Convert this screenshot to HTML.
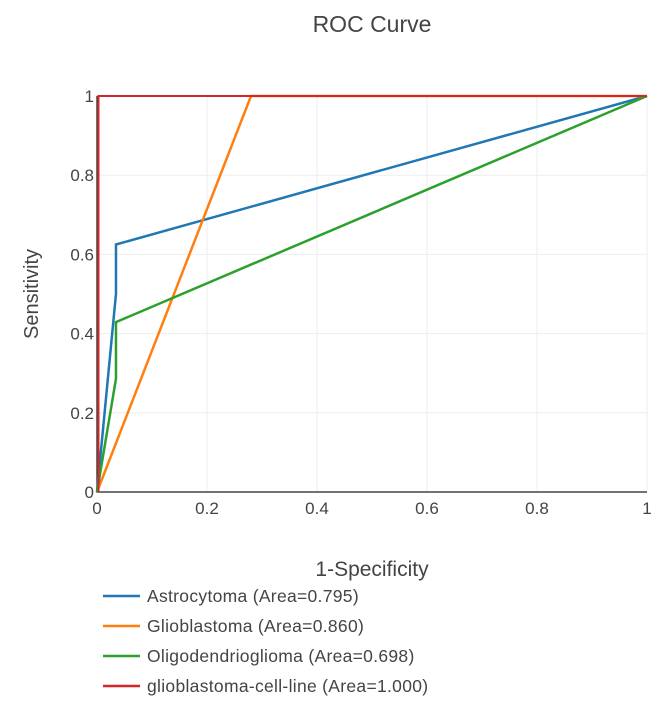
<!DOCTYPE html>
<html><head><meta charset="utf-8"><style>
body{margin:0;background:#fff;font-family:"Liberation Sans",sans-serif}
svg text{fill:#444;font-family:"Liberation Sans",sans-serif}
</style></head><body>
<svg id="chart" width="672" height="701">
<text x="372" y="32" text-anchor="middle" font-size="23">ROC Curve</text>
<g id="grid"></g><g id="ticks"></g><g id="series"></g>
<text x="372" y="576" text-anchor="middle" font-size="21">1-Specificity</text>
<text transform="translate(38,294) rotate(-90)" text-anchor="middle" font-size="20">Sensitivity</text>
<g id="legend"></g>
</svg>
<script>
const seriesNames=["Astrocytoma (Area=0.795)","Glioblastoma (Area=0.860)","Oligodendrioglioma (Area=0.698)","glioblastoma-cell-line (Area=1.000)"];
const seriesColors=["#1f77b4","#ff7f0e","#2ca02c","#d62728"];
const astroX=[0,0.0345,0.0345,1];const astroY=[0,0.5,0.625,1];
const glioX=[0,0.28,1];const glioY=[0,1,1];
const oligoX=[0,0.0345,0.0345,1];const oligoY=[0,0.286,0.429,1];
const cellX=[0,0,1];const cellY=[0,1,1];
const xTicks=[0,0.2,0.4,0.6,0.8,1];const xTickLabels=["0","0.2","0.4","0.6","0.8","1"];
const yTicks=[0,0.2,0.4,0.6,0.8,1];const yTickLabels=["0","0.2","0.4","0.6","0.8","1"];
const NS="http://www.w3.org/2000/svg";
const X0=97,X1=647,Y0=492,Y1=96;
const sx=v=>X0+v*(X1-X0), sy=v=>Y0-v*(Y0-Y1);
function mk(t,a,p){const e=document.createElementNS(NS,t);for(const k in a)e.setAttribute(k,a[k]);p.appendChild(e);return e;}
const grid=document.getElementById('grid'),ticks=document.getElementById('ticks');
xTicks.forEach((v,i)=>{
 if(v>0){const l=mk('line',{x1:sx(v),x2:sx(v),y1:Y1,y2:Y0,stroke:'#eee','stroke-width':1},grid);
 
 }
 const t=mk('text',{x:sx(v),y:Y0+22,'text-anchor':'middle','font-size':17},ticks);t.textContent=xTickLabels[i];
 
 
});
yTicks.forEach((v,i)=>{
 if(v>0){const l=mk('line',{x1:X0,x2:X1,y1:sy(v),y2:sy(v),stroke:'#eee','stroke-width':1},grid);
 
 }
 const t=mk('text',{x:X0-3,y:sy(v)+6,'text-anchor':'end','font-size':17},ticks);t.textContent=yTickLabels[i];
 
 
});
const ax=mk('path',{d:`M${X0} ${Y1}V${Y0}H${X1}`,stroke:'#444','stroke-width':1.5,fill:'none'},grid);


const data=[[astroX,astroY],[glioX,glioY],[oligoX,oligoY],[cellX,cellY]];
const widths=[2.5,2.5,2.5,2];
const sg=document.getElementById('series');
data.forEach((d,i)=>{
 const pts=d[0].map((x,j)=>(sx(x)+(i===3&&x===0?1.5:0))+','+sy(d[1][j])).join(' ');
 const p=mk('polyline',{points:pts,fill:'none',stroke:seriesColors[i],'stroke-width':widths[i]},sg);
 
 
});
const lg=document.getElementById('legend');
seriesNames.forEach((n,i)=>{
 const y=596+i*30;
 const l=mk('line',{x1:103,x2:140,y1:y,y2:y,stroke:seriesColors[i],'stroke-width':2.5},lg);
 
 
 const t=mk('text',{x:147,y:y+6,'font-size':17.5,'letter-spacing':0.3},lg);t.textContent=n;
 
 
});
</script>
</body></html>
